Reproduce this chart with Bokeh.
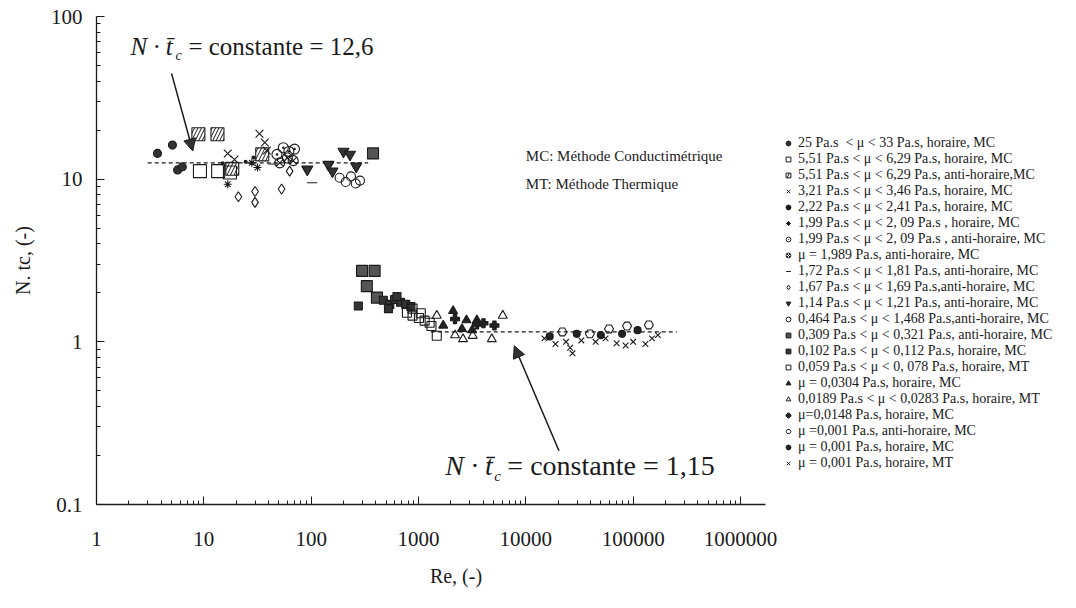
from bokeh.plotting import figure
from bokeh.layouts import row
from bokeh.models import (FixedTicker, Legend, LegendItem, Label, Arrow, NormalHead,
                          CustomJSTickFormatter)
from bokeh.embed import file_html
from bokeh.resources import INLINE

# ---------------- data ----------------
series_labels = [
    "25 Pa.s  < μ < 33 Pa.s, horaire, MC",
    "5,51 Pa.s < μ < 6,29 Pa.s, horaire, MC",
    "5,51 Pa.s < μ < 6,29 Pa.s, anti-horaire,MC",
    "3,21 Pa.s < μ < 3,46 Pa.s, horaire, MC",
    "2,22 Pa.s < μ < 2,41 Pa.s, horaire, MC",
    "1,99 Pa.s < μ < 2, 09 Pa.s , horaire, MC",
    "1,99 Pa.s < μ < 2, 09 Pa.s , anti-horaire, MC",
    "μ = 1,989 Pa.s, anti-horaire, MC",
    "1,72 Pa.s < μ < 1,81 Pa.s, anti-horaire, MC",
    "1,67 Pa.s < μ < 1,69 Pa.s,anti-horaire, MC",
    "1,14 Pa.s < μ < 1,21 Pa.s, anti-horaire, MC",
    "0,464 Pa.s < μ < 1,468 Pa.s,anti-horaire, MC",
    "0,309 Pa.s < μ < 0,321 Pa.s, anti-horaire, MC",
    "0,102 Pa.s < μ < 0,112 Pa.s, horaire, MC",
    "0,059 Pa.s < μ < 0, 078 Pa.s, horaire, MT",
    "μ = 0,0304 Pa.s, horaire, MC",
    "0,0189 Pa.s < μ < 0,0283 Pa.s, horaire, MT",
    "μ=0,0148 Pa.s, horaire, MC",
    "μ =0,001 Pa.s, anti-horaire, MC",
    "μ = 0,001 Pa.s, horaire, MC",
    "μ = 0,001 Pa.s, horaire, MT",
]

re_s1 = [3.7, 5.1, 5.7, 6.3]
nt_s1 = [14.4, 16.2, 11.4, 11.9]
re_s2 = [9.2, 13.6, 17.5]
nt_s2 = [11.2, 11.2, 11.0]
re_s3 = [8.9, 13.4, 18.4, 35.0]
nt_s3 = [18.9, 18.9, 11.6, 14.2]
re_s4 = [16.7, 19.3, 33.0, 37.0, 38.6]
nt_s4 = [14.4, 13.2, 19.0, 16.8, 15.0]
re_s5 = [15.0, 24.5, 29.0]
nt_s5 = [12.5, 12.8, 13.6]
re_s6 = [16.7, 28.0, 31.6]
nt_s6 = [9.3, 12.6, 11.8]
re_s7 = [48.0, 55.0, 62.0, 70.0]
nt_s7 = [14.2, 15.6, 14.8, 15.3]
re_s8 = [51.0, 60.0, 68.0]
nt_s8 = [12.6, 13.5, 13.0]
re_s9 = [44.0, 102.0]
nt_s9 = [12.4, 9.5]
re_s10 = [21.0, 30.0, 30.0, 53.0, 63.0]
nt_s10 = [7.8, 8.4, 7.2, 8.7, 11.2]
re_s11 = [92.0, 145.0, 158.0, 200.0, 230.0, 263.0]
nt_s11 = [11.5, 12.3, 11.2, 14.8, 14.2, 12.0]
re_s12 = [184.0, 210.0, 235.0, 260.0, 285.0]
nt_s12 = [10.2, 9.6, 10.4, 9.4, 9.8]
re_s13 = [377.0, 298.0, 390.0, 330.0, 410.0]
nt_s13 = [14.4, 2.73, 2.73, 2.2, 1.87]
re_s14 = [275.0, 470.0, 540.0, 600.0, 680.0, 760.0, 850.0, 525.0, 630.0]
nt_s14 = [1.66, 1.80, 1.70, 1.82, 1.75, 1.70, 1.65, 1.60, 1.90]
re_s15 = [780.0, 880.0, 1010.0, 1140.0, 1270.0, 1480.0, 880.0, 1050.0, 1320.0]
nt_s15 = [1.51, 1.45, 1.40, 1.35, 1.31, 1.09, 1.60, 1.50, 1.25]
re_s16 = [2100.0, 1700.0, 2800.0, 3500.0, 2540.0, 3160.0]
nt_s16 = [1.55, 1.26, 1.36, 1.36, 1.20, 1.18]
re_s17 = [1480.0, 2600.0, 3200.0, 4820.0, 6100.0, 2190.0]
nt_s17 = [1.45, 1.04, 1.09, 1.04, 1.45, 1.10]
re_s18 = [3500.0, 5100.0, 2190.0, 4030.0]
nt_s18 = [1.28, 1.26, 1.38, 1.30]
re_s19 = [21900.0, 39500.0, 59600.0, 87700.0, 140000.0]
nt_s19 = [1.15, 1.12, 1.20, 1.25, 1.27]
re_s20 = [16700.0, 29800.0, 50000.0, 79000.0, 110000.0]
nt_s20 = [1.08, 1.12, 1.10, 1.12, 1.18]
re_s21 = [14900.0, 18900.0, 23700.0, 25900.0, 27200.0, 32900.0, 44700.0,
          55300.0, 70200.0, 85100.0, 100000.0, 130000.0, 150000.0, 170000.0]
nt_s21 = [1.05, 0.97, 1.00, 0.92, 0.85, 1.02, 1.00, 1.05, 0.98, 0.95, 1.00, 0.97, 1.05, 1.10]

const_hi_re = [3.0, 340.0]
const_hi_nt = [12.6, 12.6]
const_lo_re = [1300.0, 255000.0]
const_lo_nt = [1.15, 1.15]

x_ticks = [1, 10, 100, 1000, 10000, 100000, 1000000]
x_tick_labels = ["1", "10", "100", "1000", "10000", "100000", "1000000"]
y_ticks = [0.1, 1, 10, 100]
y_tick_labels = ["0.1", "1", "10", "100"]

# annotation anchors (data coords)
arrow_hi = (5.0, 44.7, 7.9, 14.9)
arrow_lo = (20350.0, 0.214, 7800.0, 0.945)
formula_hi = (2.07, 65.5)
formula_lo = (1780.0, 0.173)
note_pos = (10000.0, 13.8, 9.3)

# ---------------- styles ----------------
INK = "#1a1a1a"
SERIF = "Liberation Serif"
styles = [
    dict(marker="circle", size=8, fill_color="#333333"),
    dict(marker="square", size=13, fill_color=None),
    dict(marker="square", size=13, fill_color=None, hatch_pattern="/", hatch_color=INK, hatch_scale=7),
    dict(marker="x", size=11),
    dict(marker="circle", size=3, fill_color=INK),
    dict(marker="asterisk", size=8),
    dict(marker="circle_dot", size=10, fill_color=None),
    dict(marker="circle_x", size=10, fill_color=None),
    dict(marker="dash", size=10),
    dict(marker="diamond", size=10, fill_color=None),
    dict(marker="inverted_triangle", size=11, fill_color="#333333"),
    dict(marker="circle", size=9, fill_color=None),
    dict(marker="square", size=11, fill_color="#555555"),
    dict(marker="square", size=8, fill_color="#333333"),
    dict(marker="square", size=9, fill_color=None),
    dict(marker="triangle", size=9, fill_color="#222222"),
    dict(marker="triangle", size=9, fill_color=None),
    dict(marker="plus", size=9, fill_color="#222222"),
    dict(marker="hex", size=9, fill_color=None),
    dict(marker="circle", size=7, fill_color="#222222"),
    dict(marker="x", size=8),
]
legend_scale = 0.8
series_x = [re_s1, re_s2, re_s3, re_s4, re_s5, re_s6, re_s7, re_s8, re_s9, re_s10, re_s11,
            re_s12, re_s13, re_s14, re_s15, re_s16, re_s17, re_s18, re_s19, re_s20, re_s21]
series_y = [nt_s1, nt_s2, nt_s3, nt_s4, nt_s5, nt_s6, nt_s7, nt_s8, nt_s9, nt_s10, nt_s11,
            nt_s12, nt_s13, nt_s14, nt_s15, nt_s16, nt_s17, nt_s18, nt_s19, nt_s20, nt_s21]

H = 592
p = figure(width=780, height=H, x_axis_type="log", y_axis_type="log",
           x_range=(1.0, 1.71e6), y_range=(0.1, 100),
           output_backend="svg", toolbar_location=None,
           min_border_left=96, min_border_right=15, min_border_top=16, min_border_bottom=88)
p.outline_line_color = None
p.grid.visible = False
p.background_fill_color = "white"
p.border_fill_color = "white"

# constants (dashed)
p.line(const_hi_re, const_hi_nt, line_color=INK, line_dash="4 3", line_width=1.2)
p.line(const_lo_re, const_lo_nt, line_color=INK, line_dash="4 3", line_width=1.2)

for xs, ys, st in zip(series_x, series_y, styles):
    p.scatter(xs, ys, line_color=INK, line_width=1.1, **st)

# axes
for ax in (p.xaxis[0], p.yaxis[0]):
    ax.axis_line_color = INK
    ax.axis_line_width = 1.3
    ax.major_tick_in = 8
    ax.major_tick_out = 0
    ax.minor_tick_in = 4
    ax.minor_tick_out = 0
    ax.major_tick_line_color = INK
    ax.minor_tick_line_color = INK
    ax.major_label_text_font = SERIF
    ax.major_label_text_font_size = "21px"
    ax.major_label_text_color = INK
    ax.axis_label_text_font = SERIF
    ax.axis_label_text_font_size = "20px"
    ax.axis_label_text_font_style = "normal"
    ax.axis_label_text_color = INK

FMT = """
for (let i = 0; i < tv.length; i++) {
  if (Math.abs(Math.log10(tv[i]) - Math.log10(tick)) < 1e-6) return tl[i];
}
return "";
"""
x_minor = [m * 10 ** d for d in range(0, 7) for m in range(2, 10) if m * 10 ** d <= 1.71e6]
y_minor = [m * 10.0 ** d for d in range(-1, 2) for m in range(2, 10)]
p.xaxis.ticker = FixedTicker(ticks=x_ticks, minor_ticks=x_minor)
p.yaxis.ticker = FixedTicker(ticks=y_ticks, minor_ticks=y_minor)
p.xaxis.formatter = CustomJSTickFormatter(args=dict(tv=x_ticks, tl=x_tick_labels), code=FMT)
p.yaxis.formatter = CustomJSTickFormatter(args=dict(tv=y_ticks, tl=y_tick_labels), code=FMT)
p.xaxis.major_label_standoff = 27
p.yaxis.major_label_standoff = 14
p.xaxis.axis_label = "\u00a0" * 10 + "Re, (-)"
p.yaxis.axis_label = "N. tc, (-)"
p.xaxis.axis_label_standoff = 16
p.yaxis.axis_label_standoff = 14

# arrows
for (xs, ys, xe, ye) in (arrow_hi, arrow_lo):
    p.add_layout(Arrow(x_start=xs, y_start=ys, x_end=xe, y_end=ye, line_color=INK, line_width=1.5,
                       end=NormalHead(size=12, fill_color="#333333", line_color=INK)))

# formulas
def formula(x, y, tail, size, sub_dx, tail_dx):
    p.add_layout(Label(x=x, y=y, text="N · t\u0304", text_font=SERIF, text_font_size=f"{size}px",
                       text_font_style="italic", text_baseline="middle", text_color=INK))
    p.add_layout(Label(x=x, y=y, x_offset=sub_dx, y_offset=-round(size * 0.35),
                       text="c", text_font=SERIF, text_font_size=f"{round(size * 0.55)}px",
                       text_font_style="italic", text_baseline="middle", text_color=INK))
    p.add_layout(Label(x=x, y=y, x_offset=tail_dx, text=tail, text_font=SERIF,
                       text_font_size=f"{size}px", text_baseline="middle", text_color=INK))

formula(formula_hi[0], formula_hi[1], "= constante = 12,6", 25, 45, 58)
formula(formula_lo[0], formula_lo[1], "= constante = 1,15", 28, 49, 62)

p.add_layout(Label(x=note_pos[0], y=note_pos[1], text="MC: Méthode Conductimétrique",
                   text_font=SERIF, text_font_size="15px", text_baseline="middle", text_color=INK))
p.add_layout(Label(x=note_pos[0], y=note_pos[2], text="MT: Méthode Thermique",
                   text_font=SERIF, text_font_size="15px", text_baseline="middle", text_color=INK))

# ---------------- legend panel ----------------
pl = figure(width=280, height=H, x_range=(0, 1), y_range=(0, 1),
            output_backend="svg", toolbar_location=None,
            x_axis_location=None, y_axis_location=None, min_border=0)
pl.outline_line_color = None
pl.grid.visible = False
pl.background_fill_color = "white"
pl.border_fill_color = "white"
items = []
for lab, xs, ys, st in zip(series_labels, series_x, series_y, styles):
    st = dict(st)
    st["size"] = max(3, round(st["size"] * legend_scale))
    # first point of each series; it lies outside this panel's (0..1) ranges,
    # so only its legend swatch is visible
    r = pl.scatter(xs[:1], ys[:1], line_color=INK, line_width=1.0, **st)
    items.append(LegendItem(label=lab, renderers=[r]))
legend = Legend(items=items, location=(2, 33), orientation="vertical",
                label_text_font=SERIF, label_text_font_size="14px", label_text_color=INK,
                glyph_width=12, glyph_height=14, label_height=16, spacing=0,
                label_standoff=4, padding=0, margin=0,
                border_line_color=None, background_fill_alpha=0)
pl.add_layout(legend, "center")

open("out.html", "w").write(file_html(row(p, pl), INLINE))
